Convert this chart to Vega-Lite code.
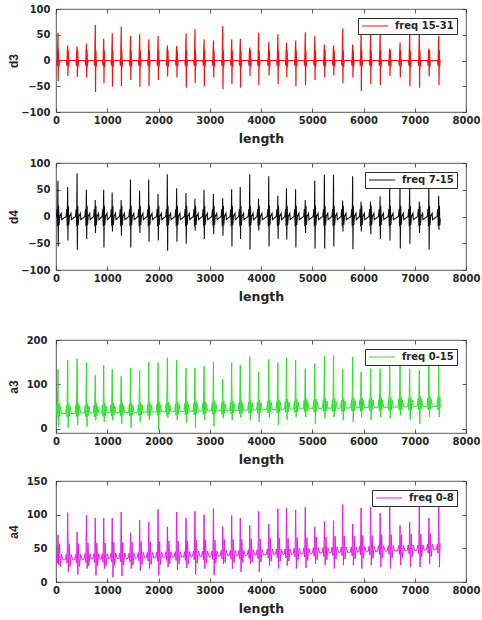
{
  "$schema": "https://vega.github.io/schema/vega-lite/v6.json",
  "background": "white",
  "padding": {"left": 6, "top": 3, "right": 0, "bottom": 2},
  "config": {
    "font": "DejaVu Sans",
    "view": {"stroke": "#303030", "strokeWidth": 0.8},
    "axis": {"domain": false, "grid": false, "tickSize": -4, "tickWidth": 0.8, "tickColor": "#303030", "labelFont": "DejaVu Sans", "labelFontWeight": "bold", "labelFontSize": 10, "labelColor": "#262626", "labelOverlap": false, "labelFlush": false, "format": "d", "titleFont": "DejaVu Sans", "titleFontWeight": "bold", "titleFontSize": 12.5, "titleColor": "#262626"},
    "axisX": {"labelPadding": 7, "titlePadding": 7},
    "axisY": {"labelPadding": 10, "titlePadding": 0, "titleFont": "Liberation Sans", "titleFontSize": 12},
    "legend": {"orient": "top-right", "offset": 9, "padding": 3, "strokeColor": "#303030", "fillColor": "white", "symbolType": "M-1,0H5.5", "symbolSize": 64, "symbolStrokeWidth": 1, "labelFont": "DejaVu Sans", "labelFontWeight": "bold", "labelFontSize": 10, "labelColor": "#262626", "labelOffset": 24, "cornerRadius": 0}
  },
  "datasets": {
    "d3": [
      {"x":0,"y":0},{"x":14,"y":0},{"x":24,"y":-10},{"x":31,"y":18},{"x":39,"y":54},{"x":43,"y":-40},{"x":50,"y":20},{"x":57,"y":-12},{"x":66,"y":0},
      {"x":204,"y":0},{"x":214,"y":-10},{"x":221,"y":18},{"x":229,"y":29},{"x":233,"y":-30},{"x":240,"y":20},{"x":247,"y":-12},{"x":256,"y":0},
      {"x":388,"y":0},{"x":398,"y":-10},{"x":405,"y":18},{"x":413,"y":27},{"x":417,"y":-32},{"x":424,"y":20},{"x":431,"y":-12},{"x":440,"y":0},
      {"x":570,"y":0},{"x":580,"y":-10},{"x":587,"y":18},{"x":595,"y":33},{"x":599,"y":-33},{"x":606,"y":20},{"x":613,"y":-12},{"x":622,"y":0},
      {"x":742,"y":0},{"x":752,"y":-10},{"x":759,"y":18},{"x":767,"y":69},{"x":771,"y":-61},{"x":778,"y":20},{"x":785,"y":-12},{"x":794,"y":0},
      {"x":907,"y":0},{"x":917,"y":-10},{"x":924,"y":18},{"x":932,"y":42},{"x":936,"y":-44},{"x":943,"y":20},{"x":950,"y":-12},{"x":959,"y":0},
      {"x":1073,"y":0},{"x":1083,"y":-10},{"x":1090,"y":18},{"x":1098,"y":53},{"x":1102,"y":-51},{"x":1109,"y":20},{"x":1116,"y":-12},{"x":1125,"y":0},
      {"x":1248,"y":0},{"x":1258,"y":-10},{"x":1265,"y":18},{"x":1273,"y":66},{"x":1277,"y":-50},{"x":1284,"y":20},{"x":1291,"y":-12},{"x":1300,"y":0},
      {"x":1430,"y":0},{"x":1440,"y":-10},{"x":1447,"y":18},{"x":1455,"y":48},{"x":1459,"y":-38},{"x":1466,"y":20},{"x":1473,"y":-12},{"x":1482,"y":0},
      {"x":1608,"y":0},{"x":1618,"y":-10},{"x":1625,"y":18},{"x":1633,"y":51},{"x":1637,"y":-51},{"x":1644,"y":20},{"x":1651,"y":-12},{"x":1660,"y":0},
      {"x":1786,"y":0},{"x":1796,"y":-10},{"x":1803,"y":18},{"x":1811,"y":41},{"x":1815,"y":-50},{"x":1822,"y":20},{"x":1829,"y":-12},{"x":1838,"y":0},
      {"x":1968,"y":0},{"x":1978,"y":-10},{"x":1985,"y":18},{"x":1993,"y":48},{"x":1997,"y":-38},{"x":2004,"y":20},{"x":2011,"y":-12},{"x":2020,"y":0},
      {"x":2149,"y":0},{"x":2159,"y":-10},{"x":2166,"y":18},{"x":2174,"y":29},{"x":2178,"y":-31},{"x":2185,"y":20},{"x":2192,"y":-12},{"x":2201,"y":0},
      {"x":2331,"y":0},{"x":2341,"y":-10},{"x":2348,"y":18},{"x":2356,"y":28},{"x":2360,"y":-33},{"x":2367,"y":20},{"x":2374,"y":-12},{"x":2383,"y":0},
      {"x":2513,"y":0},{"x":2523,"y":-10},{"x":2530,"y":18},{"x":2538,"y":53},{"x":2542,"y":-53},{"x":2549,"y":20},{"x":2556,"y":-12},{"x":2565,"y":0},
      {"x":2687,"y":0},{"x":2697,"y":-10},{"x":2704,"y":18},{"x":2712,"y":61},{"x":2716,"y":-44},{"x":2723,"y":20},{"x":2730,"y":-12},{"x":2739,"y":0},
      {"x":2865,"y":0},{"x":2875,"y":-10},{"x":2882,"y":18},{"x":2890,"y":41},{"x":2894,"y":-50},{"x":2901,"y":20},{"x":2908,"y":-12},{"x":2917,"y":0},
      {"x":3048,"y":0},{"x":3058,"y":-10},{"x":3065,"y":18},{"x":3073,"y":39},{"x":3077,"y":-33},{"x":3084,"y":20},{"x":3091,"y":-12},{"x":3100,"y":0},
      {"x":3229,"y":0},{"x":3239,"y":-10},{"x":3246,"y":18},{"x":3254,"y":67},{"x":3258,"y":-56},{"x":3265,"y":20},{"x":3272,"y":-12},{"x":3281,"y":0},
      {"x":3404,"y":0},{"x":3414,"y":-10},{"x":3421,"y":18},{"x":3429,"y":41},{"x":3433,"y":-46},{"x":3440,"y":20},{"x":3447,"y":-12},{"x":3456,"y":0},
      {"x":3572,"y":0},{"x":3582,"y":-10},{"x":3589,"y":18},{"x":3597,"y":42},{"x":3601,"y":-53},{"x":3608,"y":20},{"x":3615,"y":-12},{"x":3624,"y":0},
      {"x":3757,"y":0},{"x":3767,"y":-10},{"x":3774,"y":18},{"x":3782,"y":25},{"x":3786,"y":-30},{"x":3793,"y":20},{"x":3800,"y":-12},{"x":3809,"y":0},
      {"x":3929,"y":0},{"x":3939,"y":-10},{"x":3946,"y":18},{"x":3954,"y":54},{"x":3958,"y":-48},{"x":3965,"y":20},{"x":3972,"y":-12},{"x":3981,"y":0},
      {"x":4128,"y":0},{"x":4138,"y":-10},{"x":4145,"y":18},{"x":4153,"y":36},{"x":4157,"y":-29},{"x":4164,"y":20},{"x":4171,"y":-12},{"x":4180,"y":0},
      {"x":4305,"y":0},{"x":4315,"y":-10},{"x":4322,"y":18},{"x":4330,"y":51},{"x":4334,"y":-46},{"x":4341,"y":20},{"x":4348,"y":-12},{"x":4357,"y":0},
      {"x":4474,"y":0},{"x":4484,"y":-10},{"x":4491,"y":18},{"x":4499,"y":35},{"x":4503,"y":-33},{"x":4510,"y":20},{"x":4517,"y":-12},{"x":4526,"y":0},
      {"x":4652,"y":0},{"x":4662,"y":-10},{"x":4669,"y":18},{"x":4677,"y":39},{"x":4681,"y":-50},{"x":4688,"y":20},{"x":4695,"y":-12},{"x":4704,"y":0},
      {"x":4840,"y":0},{"x":4850,"y":-10},{"x":4857,"y":18},{"x":4865,"y":55},{"x":4869,"y":-48},{"x":4876,"y":20},{"x":4883,"y":-12},{"x":4892,"y":0},
      {"x":5026,"y":0},{"x":5036,"y":-10},{"x":5043,"y":18},{"x":5051,"y":48},{"x":5055,"y":-38},{"x":5062,"y":20},{"x":5069,"y":-12},{"x":5078,"y":0},
      {"x":5214,"y":0},{"x":5224,"y":-10},{"x":5231,"y":18},{"x":5239,"y":31},{"x":5243,"y":-33},{"x":5250,"y":20},{"x":5257,"y":-12},{"x":5266,"y":0},
      {"x":5392,"y":0},{"x":5402,"y":-10},{"x":5409,"y":18},{"x":5417,"y":29},{"x":5421,"y":-29},{"x":5428,"y":20},{"x":5435,"y":-12},{"x":5444,"y":0},
      {"x":5570,"y":0},{"x":5580,"y":-10},{"x":5587,"y":18},{"x":5595,"y":62},{"x":5599,"y":-44},{"x":5606,"y":20},{"x":5613,"y":-12},{"x":5622,"y":0},
      {"x":5765,"y":0},{"x":5775,"y":-10},{"x":5782,"y":18},{"x":5790,"y":31},{"x":5794,"y":-33},{"x":5801,"y":20},{"x":5808,"y":-12},{"x":5817,"y":0},
      {"x":5929,"y":0},{"x":5939,"y":-10},{"x":5946,"y":18},{"x":5954,"y":60},{"x":5958,"y":-59},{"x":5965,"y":20},{"x":5972,"y":-12},{"x":5981,"y":0},
      {"x":6114,"y":0},{"x":6124,"y":-10},{"x":6131,"y":18},{"x":6139,"y":60},{"x":6143,"y":-46},{"x":6150,"y":20},{"x":6157,"y":-12},{"x":6166,"y":0},
      {"x":6300,"y":0},{"x":6310,"y":-10},{"x":6317,"y":18},{"x":6325,"y":60},{"x":6329,"y":-48},{"x":6336,"y":20},{"x":6343,"y":-12},{"x":6352,"y":0},
      {"x":6488,"y":0},{"x":6498,"y":-10},{"x":6505,"y":18},{"x":6513,"y":23},{"x":6517,"y":-30},{"x":6524,"y":20},{"x":6531,"y":-12},{"x":6540,"y":0},
      {"x":6689,"y":0},{"x":6699,"y":-10},{"x":6706,"y":18},{"x":6714,"y":35},{"x":6718,"y":-33},{"x":6725,"y":20},{"x":6732,"y":-12},{"x":6741,"y":0},
      {"x":6877,"y":0},{"x":6887,"y":-10},{"x":6894,"y":18},{"x":6902,"y":58},{"x":6906,"y":-50},{"x":6913,"y":20},{"x":6920,"y":-12},{"x":6929,"y":0},
      {"x":7065,"y":0},{"x":7075,"y":-10},{"x":7082,"y":18},{"x":7090,"y":58},{"x":7094,"y":-53},{"x":7101,"y":20},{"x":7108,"y":-12},{"x":7117,"y":0},
      {"x":7252,"y":0},{"x":7262,"y":-10},{"x":7269,"y":18},{"x":7277,"y":23},{"x":7281,"y":-31},{"x":7288,"y":20},{"x":7295,"y":-12},{"x":7304,"y":0},
      {"x":7444,"y":0},{"x":7454,"y":-10},{"x":7461,"y":18},{"x":7469,"y":48},{"x":7473,"y":-48},{"x":7480,"y":20},{"x":7487,"y":-12},{"x":7496,"y":0}
    ],
    "d4": [
      {"x":0,"y":0},{"x":6,"y":0},{"x":20,"y":14},{"x":29,"y":-18},{"x":37,"y":67},{"x":43,"y":-56},{"x":51,"y":20},{"x":60,"y":-16},{"x":72,"y":0},{"x":102,"y":6},{"x":110,"y":-6},
      {"x":196,"y":0},{"x":210,"y":14},{"x":219,"y":-18},{"x":227,"y":55},{"x":233,"y":-45},{"x":241,"y":20},{"x":250,"y":-16},{"x":262,"y":0},{"x":292,"y":6},{"x":300,"y":-6},
      {"x":380,"y":0},{"x":394,"y":14},{"x":403,"y":-18},{"x":411,"y":81},{"x":417,"y":-62},{"x":425,"y":20},{"x":434,"y":-16},{"x":446,"y":0},{"x":476,"y":6},{"x":484,"y":-6},
      {"x":562,"y":0},{"x":576,"y":14},{"x":585,"y":-18},{"x":593,"y":50},{"x":599,"y":-42},{"x":607,"y":20},{"x":616,"y":-16},{"x":628,"y":0},{"x":658,"y":6},{"x":666,"y":-6},
      {"x":734,"y":0},{"x":748,"y":14},{"x":757,"y":-18},{"x":765,"y":31},{"x":771,"y":-31},{"x":779,"y":20},{"x":788,"y":-16},{"x":800,"y":0},{"x":830,"y":6},{"x":838,"y":-6},
      {"x":899,"y":0},{"x":913,"y":14},{"x":922,"y":-18},{"x":930,"y":50},{"x":936,"y":-58},{"x":944,"y":20},{"x":953,"y":-16},{"x":965,"y":0},{"x":995,"y":6},{"x":1003,"y":-6},
      {"x":1065,"y":0},{"x":1079,"y":14},{"x":1088,"y":-18},{"x":1096,"y":45},{"x":1102,"y":-28},{"x":1110,"y":20},{"x":1119,"y":-16},{"x":1131,"y":0},{"x":1161,"y":6},{"x":1169,"y":-6},
      {"x":1240,"y":0},{"x":1254,"y":14},{"x":1263,"y":-18},{"x":1271,"y":31},{"x":1277,"y":-36},{"x":1285,"y":20},{"x":1294,"y":-16},{"x":1306,"y":0},{"x":1336,"y":6},{"x":1344,"y":-6},
      {"x":1422,"y":0},{"x":1436,"y":14},{"x":1445,"y":-18},{"x":1453,"y":69},{"x":1459,"y":-58},{"x":1467,"y":20},{"x":1476,"y":-16},{"x":1488,"y":0},{"x":1518,"y":6},{"x":1526,"y":-6},
      {"x":1600,"y":0},{"x":1614,"y":14},{"x":1623,"y":-18},{"x":1631,"y":48},{"x":1637,"y":-31},{"x":1645,"y":20},{"x":1654,"y":-16},{"x":1666,"y":0},{"x":1696,"y":6},{"x":1704,"y":-6},
      {"x":1778,"y":0},{"x":1792,"y":14},{"x":1801,"y":-18},{"x":1809,"y":69},{"x":1815,"y":-47},{"x":1823,"y":20},{"x":1832,"y":-16},{"x":1844,"y":0},{"x":1874,"y":6},{"x":1882,"y":-6},
      {"x":1960,"y":0},{"x":1974,"y":14},{"x":1983,"y":-18},{"x":1991,"y":42},{"x":1997,"y":-45},{"x":2005,"y":20},{"x":2014,"y":-16},{"x":2026,"y":0},{"x":2056,"y":6},{"x":2064,"y":-6},
      {"x":2141,"y":0},{"x":2155,"y":14},{"x":2164,"y":-18},{"x":2172,"y":79},{"x":2178,"y":-64},{"x":2186,"y":20},{"x":2195,"y":-16},{"x":2207,"y":0},{"x":2237,"y":6},{"x":2245,"y":-6},
      {"x":2323,"y":0},{"x":2337,"y":14},{"x":2346,"y":-18},{"x":2354,"y":53},{"x":2360,"y":-47},{"x":2368,"y":20},{"x":2377,"y":-16},{"x":2389,"y":0},{"x":2419,"y":6},{"x":2427,"y":-6},
      {"x":2505,"y":0},{"x":2519,"y":14},{"x":2528,"y":-18},{"x":2536,"y":44},{"x":2542,"y":-51},{"x":2550,"y":20},{"x":2559,"y":-16},{"x":2571,"y":0},{"x":2601,"y":6},{"x":2609,"y":-6},
      {"x":2679,"y":0},{"x":2693,"y":14},{"x":2702,"y":-18},{"x":2710,"y":33},{"x":2716,"y":-26},{"x":2724,"y":20},{"x":2733,"y":-16},{"x":2745,"y":0},{"x":2775,"y":6},{"x":2783,"y":-6},
      {"x":2857,"y":0},{"x":2871,"y":14},{"x":2880,"y":-18},{"x":2888,"y":50},{"x":2894,"y":-42},{"x":2902,"y":20},{"x":2911,"y":-16},{"x":2923,"y":0},{"x":2953,"y":6},{"x":2961,"y":-6},
      {"x":3040,"y":0},{"x":3054,"y":14},{"x":3063,"y":-18},{"x":3071,"y":42},{"x":3077,"y":-33},{"x":3085,"y":20},{"x":3094,"y":-16},{"x":3106,"y":0},{"x":3136,"y":6},{"x":3144,"y":-6},
      {"x":3221,"y":0},{"x":3235,"y":14},{"x":3244,"y":-18},{"x":3252,"y":34},{"x":3258,"y":-36},{"x":3266,"y":20},{"x":3275,"y":-16},{"x":3287,"y":0},{"x":3317,"y":6},{"x":3325,"y":-6},
      {"x":3396,"y":0},{"x":3410,"y":14},{"x":3419,"y":-18},{"x":3427,"y":51},{"x":3433,"y":-56},{"x":3441,"y":20},{"x":3450,"y":-16},{"x":3462,"y":0},{"x":3492,"y":6},{"x":3500,"y":-6},
      {"x":3564,"y":0},{"x":3578,"y":14},{"x":3587,"y":-18},{"x":3595,"y":55},{"x":3601,"y":-42},{"x":3609,"y":20},{"x":3618,"y":-16},{"x":3630,"y":0},{"x":3660,"y":6},{"x":3668,"y":-6},
      {"x":3749,"y":0},{"x":3763,"y":14},{"x":3772,"y":-18},{"x":3780,"y":79},{"x":3786,"y":-62},{"x":3794,"y":20},{"x":3803,"y":-16},{"x":3815,"y":0},{"x":3845,"y":6},{"x":3853,"y":-6},
      {"x":3921,"y":0},{"x":3935,"y":14},{"x":3944,"y":-18},{"x":3952,"y":33},{"x":3958,"y":-26},{"x":3966,"y":20},{"x":3975,"y":-16},{"x":3987,"y":0},{"x":4017,"y":6},{"x":4025,"y":-6},
      {"x":4120,"y":0},{"x":4134,"y":14},{"x":4143,"y":-18},{"x":4151,"y":75},{"x":4157,"y":-56},{"x":4165,"y":20},{"x":4174,"y":-16},{"x":4186,"y":0},{"x":4216,"y":6},{"x":4224,"y":-6},
      {"x":4297,"y":0},{"x":4311,"y":14},{"x":4320,"y":-18},{"x":4328,"y":39},{"x":4334,"y":-42},{"x":4342,"y":20},{"x":4351,"y":-16},{"x":4363,"y":0},{"x":4393,"y":6},{"x":4401,"y":-6},
      {"x":4466,"y":0},{"x":4480,"y":14},{"x":4489,"y":-18},{"x":4497,"y":53},{"x":4503,"y":-43},{"x":4511,"y":20},{"x":4520,"y":-16},{"x":4532,"y":0},{"x":4562,"y":6},{"x":4570,"y":-6},
      {"x":4644,"y":0},{"x":4658,"y":14},{"x":4667,"y":-18},{"x":4675,"y":51},{"x":4681,"y":-58},{"x":4689,"y":20},{"x":4698,"y":-16},{"x":4710,"y":0},{"x":4740,"y":6},{"x":4748,"y":-6},
      {"x":4832,"y":0},{"x":4846,"y":14},{"x":4855,"y":-18},{"x":4863,"y":31},{"x":4869,"y":-31},{"x":4877,"y":20},{"x":4886,"y":-16},{"x":4898,"y":0},{"x":4928,"y":6},{"x":4936,"y":-6},
      {"x":5018,"y":0},{"x":5032,"y":14},{"x":5041,"y":-18},{"x":5049,"y":67},{"x":5055,"y":-60},{"x":5063,"y":20},{"x":5072,"y":-16},{"x":5084,"y":0},{"x":5114,"y":6},{"x":5122,"y":-6},
      {"x":5206,"y":0},{"x":5220,"y":14},{"x":5229,"y":-18},{"x":5237,"y":78},{"x":5243,"y":-60},{"x":5251,"y":20},{"x":5260,"y":-16},{"x":5272,"y":0},{"x":5302,"y":6},{"x":5310,"y":-6},
      {"x":5384,"y":0},{"x":5398,"y":14},{"x":5407,"y":-18},{"x":5415,"y":78},{"x":5421,"y":-56},{"x":5429,"y":20},{"x":5438,"y":-16},{"x":5450,"y":0},{"x":5480,"y":6},{"x":5488,"y":-6},
      {"x":5562,"y":0},{"x":5576,"y":14},{"x":5585,"y":-18},{"x":5593,"y":30},{"x":5599,"y":-28},{"x":5607,"y":20},{"x":5616,"y":-16},{"x":5628,"y":0},{"x":5658,"y":6},{"x":5666,"y":-6},
      {"x":5757,"y":0},{"x":5771,"y":14},{"x":5780,"y":-18},{"x":5788,"y":75},{"x":5794,"y":-61},{"x":5802,"y":20},{"x":5811,"y":-16},{"x":5823,"y":0},{"x":5853,"y":6},{"x":5861,"y":-6},
      {"x":5921,"y":0},{"x":5935,"y":14},{"x":5944,"y":-18},{"x":5952,"y":28},{"x":5958,"y":-28},{"x":5966,"y":20},{"x":5975,"y":-16},{"x":5987,"y":0},{"x":6017,"y":6},{"x":6025,"y":-6},
      {"x":6106,"y":0},{"x":6120,"y":14},{"x":6129,"y":-18},{"x":6137,"y":28},{"x":6143,"y":-33},{"x":6151,"y":20},{"x":6160,"y":-16},{"x":6172,"y":0},{"x":6202,"y":6},{"x":6210,"y":-6},
      {"x":6292,"y":0},{"x":6306,"y":14},{"x":6315,"y":-18},{"x":6323,"y":38},{"x":6329,"y":-42},{"x":6337,"y":20},{"x":6346,"y":-16},{"x":6358,"y":0},{"x":6388,"y":6},{"x":6396,"y":-6},
      {"x":6480,"y":0},{"x":6494,"y":14},{"x":6503,"y":-18},{"x":6511,"y":53},{"x":6517,"y":-45},{"x":6525,"y":20},{"x":6534,"y":-16},{"x":6546,"y":0},{"x":6576,"y":6},{"x":6584,"y":-6},
      {"x":6681,"y":0},{"x":6695,"y":14},{"x":6704,"y":-18},{"x":6712,"y":62},{"x":6718,"y":-60},{"x":6726,"y":20},{"x":6735,"y":-16},{"x":6747,"y":0},{"x":6777,"y":6},{"x":6785,"y":-6},
      {"x":6869,"y":0},{"x":6883,"y":14},{"x":6892,"y":-18},{"x":6900,"y":62},{"x":6906,"y":-51},{"x":6914,"y":20},{"x":6923,"y":-16},{"x":6935,"y":0},{"x":6965,"y":6},{"x":6973,"y":-6},
      {"x":7057,"y":0},{"x":7071,"y":14},{"x":7080,"y":-18},{"x":7088,"y":28},{"x":7094,"y":-31},{"x":7102,"y":20},{"x":7111,"y":-16},{"x":7123,"y":0},{"x":7153,"y":6},{"x":7161,"y":-6},
      {"x":7244,"y":0},{"x":7258,"y":14},{"x":7267,"y":-18},{"x":7275,"y":62},{"x":7281,"y":-62},{"x":7289,"y":20},{"x":7298,"y":-16},{"x":7310,"y":0},{"x":7340,"y":6},{"x":7348,"y":-6},
      {"x":7436,"y":0},{"x":7450,"y":14},{"x":7459,"y":-18},{"x":7467,"y":39},{"x":7473,"y":-25},{"x":7481,"y":20},{"x":7490,"y":-16},{"x":7498,"y":-4}
    ],
    "a3": [
      {"x":0,"y":34},{"x":14,"y":52},{"x":24,"y":26},{"x":38,"y":134},{"x":48,"y":4},{"x":60,"y":56},{"x":72,"y":28},{"x":86,"y":50},{"x":106,"y":34},
      {"x":190,"y":34},{"x":204,"y":52},{"x":214,"y":26},{"x":228,"y":155},{"x":238,"y":2},{"x":250,"y":56},{"x":262,"y":28},{"x":276,"y":50},{"x":296,"y":34},
      {"x":374,"y":35},{"x":388,"y":53},{"x":398,"y":27},{"x":412,"y":158},{"x":422,"y":8},{"x":434,"y":57},{"x":446,"y":29},{"x":460,"y":51},{"x":480,"y":35},
      {"x":556,"y":35},{"x":570,"y":53},{"x":580,"y":27},{"x":594,"y":149},{"x":604,"y":4},{"x":616,"y":57},{"x":628,"y":29},{"x":642,"y":51},{"x":662,"y":35},
      {"x":728,"y":35},{"x":742,"y":53},{"x":752,"y":27},{"x":766,"y":120},{"x":776,"y":19},{"x":788,"y":57},{"x":800,"y":29},{"x":814,"y":51},{"x":834,"y":35},
      {"x":893,"y":35},{"x":907,"y":53},{"x":917,"y":27},{"x":931,"y":143},{"x":941,"y":15},{"x":953,"y":57},{"x":965,"y":29},{"x":979,"y":51},{"x":999,"y":35},
      {"x":1059,"y":36},{"x":1073,"y":54},{"x":1083,"y":28},{"x":1097,"y":134},{"x":1107,"y":19},{"x":1119,"y":58},{"x":1131,"y":30},{"x":1145,"y":52},{"x":1165,"y":36},
      {"x":1234,"y":36},{"x":1248,"y":54},{"x":1258,"y":28},{"x":1272,"y":118},{"x":1282,"y":11},{"x":1294,"y":58},{"x":1306,"y":30},{"x":1320,"y":52},{"x":1340,"y":36},
      {"x":1416,"y":36},{"x":1430,"y":54},{"x":1440,"y":28},{"x":1454,"y":137},{"x":1464,"y":2},{"x":1476,"y":58},{"x":1488,"y":30},{"x":1502,"y":52},{"x":1522,"y":36},
      {"x":1594,"y":37},{"x":1608,"y":55},{"x":1618,"y":29},{"x":1632,"y":132},{"x":1642,"y":15},{"x":1654,"y":59},{"x":1666,"y":31},{"x":1680,"y":53},{"x":1700,"y":37},
      {"x":1772,"y":37},{"x":1786,"y":55},{"x":1796,"y":29},{"x":1810,"y":150},{"x":1820,"y":19},{"x":1832,"y":59},{"x":1844,"y":31},{"x":1858,"y":53},{"x":1878,"y":37},
      {"x":1954,"y":38},{"x":1968,"y":56},{"x":1978,"y":30},{"x":1992,"y":149},{"x":2002,"y":-3},{"x":2014,"y":60},{"x":2026,"y":32},{"x":2040,"y":54},{"x":2060,"y":38},
      {"x":2135,"y":38},{"x":2149,"y":56},{"x":2159,"y":30},{"x":2173,"y":160},{"x":2183,"y":25},{"x":2195,"y":60},{"x":2207,"y":32},{"x":2221,"y":54},{"x":2241,"y":38},
      {"x":2317,"y":38},{"x":2331,"y":56},{"x":2341,"y":30},{"x":2355,"y":155},{"x":2365,"y":19},{"x":2377,"y":60},{"x":2389,"y":32},{"x":2403,"y":54},{"x":2423,"y":38},
      {"x":2499,"y":39},{"x":2513,"y":57},{"x":2523,"y":31},{"x":2537,"y":137},{"x":2547,"y":13},{"x":2559,"y":61},{"x":2571,"y":33},{"x":2585,"y":55},{"x":2605,"y":39},
      {"x":2673,"y":39},{"x":2687,"y":57},{"x":2697,"y":31},{"x":2711,"y":137},{"x":2721,"y":2},{"x":2733,"y":61},{"x":2745,"y":33},{"x":2759,"y":55},{"x":2779,"y":39},
      {"x":2851,"y":40},{"x":2865,"y":58},{"x":2875,"y":32},{"x":2889,"y":141},{"x":2899,"y":19},{"x":2911,"y":62},{"x":2923,"y":34},{"x":2937,"y":56},{"x":2957,"y":40},
      {"x":3034,"y":40},{"x":3048,"y":58},{"x":3058,"y":32},{"x":3072,"y":150},{"x":3082,"y":5},{"x":3094,"y":62},{"x":3106,"y":34},{"x":3120,"y":56},{"x":3140,"y":40},
      {"x":3215,"y":40},{"x":3229,"y":58},{"x":3239,"y":32},{"x":3253,"y":112},{"x":3263,"y":23},{"x":3275,"y":62},{"x":3287,"y":34},{"x":3301,"y":56},{"x":3321,"y":40},
      {"x":3390,"y":41},{"x":3404,"y":59},{"x":3414,"y":33},{"x":3428,"y":149},{"x":3438,"y":19},{"x":3450,"y":63},{"x":3462,"y":35},{"x":3476,"y":57},{"x":3496,"y":41},
      {"x":3558,"y":41},{"x":3572,"y":59},{"x":3582,"y":33},{"x":3596,"y":143},{"x":3606,"y":25},{"x":3618,"y":63},{"x":3630,"y":35},{"x":3644,"y":57},{"x":3664,"y":41},
      {"x":3743,"y":42},{"x":3757,"y":60},{"x":3767,"y":34},{"x":3781,"y":162},{"x":3791,"y":19},{"x":3803,"y":64},{"x":3815,"y":36},{"x":3829,"y":58},{"x":3849,"y":42},
      {"x":3915,"y":42},{"x":3929,"y":60},{"x":3939,"y":34},{"x":3953,"y":128},{"x":3963,"y":15},{"x":3975,"y":64},{"x":3987,"y":36},{"x":4001,"y":58},{"x":4021,"y":42},
      {"x":4114,"y":43},{"x":4128,"y":61},{"x":4138,"y":35},{"x":4152,"y":156},{"x":4162,"y":25},{"x":4174,"y":65},{"x":4186,"y":37},{"x":4200,"y":59},{"x":4220,"y":43},
      {"x":4291,"y":43},{"x":4305,"y":61},{"x":4315,"y":35},{"x":4329,"y":149},{"x":4339,"y":8},{"x":4351,"y":65},{"x":4363,"y":37},{"x":4377,"y":59},{"x":4397,"y":43},
      {"x":4460,"y":44},{"x":4474,"y":62},{"x":4484,"y":36},{"x":4498,"y":160},{"x":4508,"y":20},{"x":4520,"y":66},{"x":4532,"y":38},{"x":4546,"y":60},{"x":4566,"y":44},
      {"x":4638,"y":44},{"x":4652,"y":62},{"x":4662,"y":36},{"x":4676,"y":155},{"x":4686,"y":26},{"x":4698,"y":66},{"x":4710,"y":38},{"x":4724,"y":60},{"x":4744,"y":44},
      {"x":4826,"y":45},{"x":4840,"y":63},{"x":4850,"y":37},{"x":4864,"y":135},{"x":4874,"y":26},{"x":4886,"y":67},{"x":4898,"y":39},{"x":4912,"y":61},{"x":4932,"y":45},
      {"x":5012,"y":45},{"x":5026,"y":63},{"x":5036,"y":37},{"x":5050,"y":147},{"x":5060,"y":11},{"x":5072,"y":67},{"x":5084,"y":39},{"x":5098,"y":61},{"x":5118,"y":45},
      {"x":5200,"y":46},{"x":5214,"y":64},{"x":5224,"y":38},{"x":5238,"y":164},{"x":5248,"y":23},{"x":5260,"y":68},{"x":5272,"y":40},{"x":5286,"y":62},{"x":5306,"y":46},
      {"x":5378,"y":46},{"x":5392,"y":64},{"x":5402,"y":38},{"x":5416,"y":165},{"x":5426,"y":26},{"x":5438,"y":68},{"x":5450,"y":40},{"x":5464,"y":62},{"x":5484,"y":46},
      {"x":5556,"y":46},{"x":5570,"y":64},{"x":5580,"y":38},{"x":5594,"y":134},{"x":5604,"y":19},{"x":5616,"y":68},{"x":5628,"y":40},{"x":5642,"y":62},{"x":5662,"y":46},
      {"x":5751,"y":47},{"x":5765,"y":65},{"x":5775,"y":39},{"x":5789,"y":162},{"x":5799,"y":15},{"x":5811,"y":69},{"x":5823,"y":41},{"x":5837,"y":63},{"x":5857,"y":47},
      {"x":5915,"y":47},{"x":5929,"y":65},{"x":5939,"y":39},{"x":5953,"y":128},{"x":5963,"y":26},{"x":5975,"y":69},{"x":5987,"y":41},{"x":6001,"y":63},{"x":6021,"y":47},
      {"x":6100,"y":48},{"x":6114,"y":66},{"x":6124,"y":40},{"x":6138,"y":135},{"x":6148,"y":19},{"x":6160,"y":70},{"x":6172,"y":42},{"x":6186,"y":64},{"x":6206,"y":48},
      {"x":6286,"y":48},{"x":6300,"y":66},{"x":6310,"y":40},{"x":6324,"y":135},{"x":6334,"y":26},{"x":6346,"y":70},{"x":6358,"y":42},{"x":6372,"y":64},{"x":6392,"y":48},
      {"x":6474,"y":48},{"x":6488,"y":66},{"x":6498,"y":40},{"x":6512,"y":152},{"x":6522,"y":23},{"x":6534,"y":70},{"x":6546,"y":42},{"x":6560,"y":64},{"x":6580,"y":48},
      {"x":6675,"y":49},{"x":6689,"y":67},{"x":6699,"y":41},{"x":6713,"y":152},{"x":6723,"y":30},{"x":6735,"y":71},{"x":6747,"y":43},{"x":6761,"y":65},{"x":6781,"y":49},
      {"x":6863,"y":49},{"x":6877,"y":67},{"x":6887,"y":41},{"x":6901,"y":135},{"x":6911,"y":20},{"x":6923,"y":71},{"x":6935,"y":43},{"x":6949,"y":65},{"x":6969,"y":49},
      {"x":7051,"y":50},{"x":7065,"y":68},{"x":7075,"y":42},{"x":7089,"y":132},{"x":7099,"y":11},{"x":7111,"y":72},{"x":7123,"y":44},{"x":7137,"y":66},{"x":7157,"y":50},
      {"x":7238,"y":50},{"x":7252,"y":68},{"x":7262,"y":42},{"x":7276,"y":152},{"x":7286,"y":26},{"x":7298,"y":72},{"x":7310,"y":44},{"x":7324,"y":66},{"x":7344,"y":50},
      {"x":7430,"y":50},{"x":7444,"y":68},{"x":7454,"y":42},{"x":7468,"y":143},{"x":7478,"y":26},{"x":7490,"y":72},{"x":7498,"y":48}
    ],
    "a4": [
      {"x":0,"y":33},{"x":12,"y":40},{"x":26,"y":28},{"x":38,"y":70},{"x":52,"y":25},{"x":68,"y":57},{"x":84,"y":23},{"x":106,"y":41},{"x":136,"y":33},
      {"x":180,"y":33},{"x":200,"y":41},{"x":216,"y":28},{"x":228,"y":103},{"x":242,"y":15},{"x":258,"y":57},{"x":274,"y":23},{"x":296,"y":41},{"x":326,"y":33},
      {"x":364,"y":33},{"x":384,"y":41},{"x":400,"y":28},{"x":412,"y":74},{"x":426,"y":11},{"x":442,"y":57},{"x":458,"y":23},{"x":480,"y":41},{"x":510,"y":33},
      {"x":546,"y":34},{"x":566,"y":42},{"x":582,"y":29},{"x":594,"y":99},{"x":608,"y":20},{"x":624,"y":58},{"x":640,"y":24},{"x":662,"y":42},{"x":692,"y":34},
      {"x":718,"y":34},{"x":738,"y":42},{"x":754,"y":29},{"x":766,"y":95},{"x":780,"y":10},{"x":796,"y":58},{"x":812,"y":24},{"x":834,"y":42},{"x":864,"y":34},
      {"x":883,"y":34},{"x":903,"y":42},{"x":919,"y":29},{"x":931,"y":95},{"x":945,"y":20},{"x":961,"y":58},{"x":977,"y":24},{"x":999,"y":42},{"x":1029,"y":34},
      {"x":1049,"y":35},{"x":1069,"y":43},{"x":1085,"y":30},{"x":1097,"y":95},{"x":1111,"y":7},{"x":1127,"y":59},{"x":1143,"y":25},{"x":1165,"y":43},{"x":1195,"y":35},
      {"x":1224,"y":35},{"x":1244,"y":43},{"x":1260,"y":30},{"x":1272,"y":104},{"x":1286,"y":9},{"x":1302,"y":59},{"x":1318,"y":25},{"x":1340,"y":43},{"x":1370,"y":35},
      {"x":1406,"y":35},{"x":1426,"y":43},{"x":1442,"y":30},{"x":1454,"y":73},{"x":1468,"y":20},{"x":1484,"y":59},{"x":1500,"y":25},{"x":1522,"y":43},{"x":1552,"y":35},
      {"x":1584,"y":36},{"x":1604,"y":44},{"x":1620,"y":31},{"x":1632,"y":92},{"x":1646,"y":17},{"x":1662,"y":60},{"x":1678,"y":26},{"x":1700,"y":44},{"x":1730,"y":36},
      {"x":1762,"y":36},{"x":1782,"y":44},{"x":1798,"y":31},{"x":1810,"y":89},{"x":1824,"y":20},{"x":1840,"y":60},{"x":1856,"y":26},{"x":1878,"y":44},{"x":1908,"y":36},
      {"x":1944,"y":36},{"x":1964,"y":44},{"x":1980,"y":31},{"x":1992,"y":108},{"x":2006,"y":10},{"x":2022,"y":60},{"x":2038,"y":26},{"x":2060,"y":44},{"x":2090,"y":36},
      {"x":2125,"y":37},{"x":2145,"y":45},{"x":2161,"y":32},{"x":2173,"y":82},{"x":2187,"y":22},{"x":2203,"y":61},{"x":2219,"y":27},{"x":2241,"y":45},{"x":2271,"y":37},
      {"x":2307,"y":37},{"x":2327,"y":45},{"x":2343,"y":32},{"x":2355,"y":104},{"x":2369,"y":18},{"x":2385,"y":61},{"x":2401,"y":27},{"x":2423,"y":45},{"x":2453,"y":37},
      {"x":2489,"y":37},{"x":2509,"y":45},{"x":2525,"y":32},{"x":2537,"y":95},{"x":2551,"y":21},{"x":2567,"y":61},{"x":2583,"y":27},{"x":2605,"y":45},{"x":2635,"y":37},
      {"x":2663,"y":38},{"x":2683,"y":46},{"x":2699,"y":33},{"x":2711,"y":105},{"x":2725,"y":11},{"x":2741,"y":62},{"x":2757,"y":28},{"x":2779,"y":46},{"x":2809,"y":38},
      {"x":2841,"y":38},{"x":2861,"y":46},{"x":2877,"y":33},{"x":2889,"y":100},{"x":2903,"y":20},{"x":2919,"y":62},{"x":2935,"y":28},{"x":2957,"y":46},{"x":2987,"y":38},
      {"x":3024,"y":38},{"x":3044,"y":46},{"x":3060,"y":33},{"x":3072,"y":109},{"x":3086,"y":10},{"x":3102,"y":62},{"x":3118,"y":28},{"x":3140,"y":46},{"x":3170,"y":38},
      {"x":3205,"y":39},{"x":3225,"y":47},{"x":3241,"y":34},{"x":3253,"y":82},{"x":3267,"y":27},{"x":3283,"y":63},{"x":3299,"y":29},{"x":3321,"y":47},{"x":3351,"y":39},
      {"x":3380,"y":39},{"x":3400,"y":47},{"x":3416,"y":34},{"x":3428,"y":99},{"x":3442,"y":20},{"x":3458,"y":63},{"x":3474,"y":29},{"x":3496,"y":47},{"x":3526,"y":39},
      {"x":3548,"y":39},{"x":3568,"y":47},{"x":3584,"y":34},{"x":3596,"y":95},{"x":3610,"y":15},{"x":3626,"y":63},{"x":3642,"y":29},{"x":3664,"y":47},{"x":3694,"y":39},
      {"x":3733,"y":40},{"x":3753,"y":48},{"x":3769,"y":35},{"x":3781,"y":84},{"x":3795,"y":27},{"x":3811,"y":64},{"x":3827,"y":30},{"x":3849,"y":48},{"x":3879,"y":40},
      {"x":3905,"y":40},{"x":3925,"y":48},{"x":3941,"y":35},{"x":3953,"y":105},{"x":3967,"y":15},{"x":3983,"y":64},{"x":3999,"y":30},{"x":4021,"y":48},{"x":4051,"y":40},
      {"x":4104,"y":41},{"x":4124,"y":49},{"x":4140,"y":36},{"x":4152,"y":86},{"x":4166,"y":24},{"x":4182,"y":65},{"x":4198,"y":31},{"x":4220,"y":49},{"x":4250,"y":41},
      {"x":4281,"y":41},{"x":4301,"y":49},{"x":4317,"y":36},{"x":4329,"y":109},{"x":4343,"y":20},{"x":4359,"y":65},{"x":4375,"y":31},{"x":4397,"y":49},{"x":4427,"y":41},
      {"x":4450,"y":41},{"x":4470,"y":49},{"x":4486,"y":36},{"x":4498,"y":110},{"x":4512,"y":24},{"x":4528,"y":65},{"x":4544,"y":31},{"x":4566,"y":49},{"x":4596,"y":41},
      {"x":4628,"y":42},{"x":4648,"y":50},{"x":4664,"y":37},{"x":4676,"y":107},{"x":4690,"y":20},{"x":4706,"y":66},{"x":4722,"y":32},{"x":4744,"y":50},{"x":4774,"y":42},
      {"x":4816,"y":42},{"x":4836,"y":50},{"x":4852,"y":37},{"x":4864,"y":111},{"x":4878,"y":21},{"x":4894,"y":66},{"x":4910,"y":32},{"x":4932,"y":50},{"x":4962,"y":42},
      {"x":5002,"y":43},{"x":5022,"y":51},{"x":5038,"y":38},{"x":5050,"y":82},{"x":5064,"y":27},{"x":5080,"y":67},{"x":5096,"y":33},{"x":5118,"y":51},{"x":5148,"y":43},
      {"x":5190,"y":43},{"x":5210,"y":51},{"x":5226,"y":38},{"x":5238,"y":90},{"x":5252,"y":25},{"x":5268,"y":67},{"x":5284,"y":33},{"x":5306,"y":51},{"x":5336,"y":43},
      {"x":5368,"y":44},{"x":5388,"y":52},{"x":5404,"y":39},{"x":5416,"y":91},{"x":5430,"y":20},{"x":5446,"y":68},{"x":5462,"y":34},{"x":5484,"y":52},{"x":5514,"y":44},
      {"x":5546,"y":44},{"x":5566,"y":52},{"x":5582,"y":39},{"x":5594,"y":115},{"x":5608,"y":25},{"x":5624,"y":68},{"x":5640,"y":34},{"x":5662,"y":52},{"x":5692,"y":44},
      {"x":5741,"y":44},{"x":5761,"y":52},{"x":5777,"y":39},{"x":5789,"y":86},{"x":5803,"y":25},{"x":5819,"y":68},{"x":5835,"y":34},{"x":5857,"y":52},{"x":5887,"y":44},
      {"x":5905,"y":45},{"x":5925,"y":53},{"x":5941,"y":40},{"x":5953,"y":110},{"x":5967,"y":20},{"x":5983,"y":69},{"x":5999,"y":35},{"x":6021,"y":53},{"x":6051,"y":45},
      {"x":6090,"y":45},{"x":6110,"y":53},{"x":6126,"y":40},{"x":6138,"y":111},{"x":6152,"y":25},{"x":6168,"y":69},{"x":6184,"y":35},{"x":6206,"y":53},{"x":6236,"y":45},
      {"x":6276,"y":46},{"x":6296,"y":54},{"x":6312,"y":41},{"x":6324,"y":102},{"x":6338,"y":22},{"x":6354,"y":70},{"x":6370,"y":36},{"x":6392,"y":54},{"x":6422,"y":46},
      {"x":6464,"y":46},{"x":6484,"y":54},{"x":6500,"y":41},{"x":6512,"y":116},{"x":6526,"y":20},{"x":6542,"y":70},{"x":6558,"y":36},{"x":6580,"y":54},{"x":6610,"y":46},
      {"x":6665,"y":46},{"x":6685,"y":54},{"x":6701,"y":41},{"x":6713,"y":84},{"x":6727,"y":25},{"x":6743,"y":70},{"x":6759,"y":36},{"x":6781,"y":54},{"x":6811,"y":46},
      {"x":6853,"y":47},{"x":6873,"y":55},{"x":6889,"y":42},{"x":6901,"y":89},{"x":6915,"y":22},{"x":6931,"y":71},{"x":6947,"y":37},{"x":6969,"y":55},{"x":6999,"y":47},
      {"x":7041,"y":47},{"x":7061,"y":55},{"x":7077,"y":42},{"x":7089,"y":112},{"x":7103,"y":22},{"x":7119,"y":71},{"x":7135,"y":37},{"x":7157,"y":55},{"x":7187,"y":47},
      {"x":7228,"y":48},{"x":7248,"y":56},{"x":7264,"y":43},{"x":7276,"y":95},{"x":7290,"y":27},{"x":7306,"y":72},{"x":7322,"y":38},{"x":7344,"y":56},{"x":7374,"y":48},
      {"x":7420,"y":48},{"x":7440,"y":56},{"x":7456,"y":43},{"x":7468,"y":112},{"x":7482,"y":22},{"x":7494,"y":58}
    ]
  },
  "resolve": {"scale": {"color": "independent"}},
  "columns": 1,
  "align": "none",
  "spacing": 31,
  "concat": [
    {
      "resolve": {"scale": {"color": "independent"}},
      "spacing": 12,
      "vconcat": [
        {
          "width": 410, "height": 103,
          "data": {"name": "d3"},
          "resolve": {"axis": {"x": "independent", "y": "independent"}},
          "layer": [
            {
              "mark": {"type": "line", "strokeWidth": 1.2, "clip": true},
              "encoding": {
                "x": {"field": "x", "type": "quantitative", "scale": {"domain": [0, 8000], "nice": false}, "axis": {"orient": "bottom", "title": "length", "values": [0, 1000, 2000, 3000, 4000, 5000, 6000, 7000, 8000]}},
                "y": {"field": "y", "type": "quantitative", "scale": {"domain": [-100, 100], "nice": false}, "axis": {"orient": "left", "title": "d3", "values": [-100, -50, 0, 50, 100]}},
                "color": {"datum": "freq 15-31", "type": "nominal", "scale": {"range": ["#f01414"]}, "legend": {"title": null}}
              }
            },
            {
              "mark": {"type": "point", "opacity": 0, "size": 0},
              "encoding": {
                "x": {"datum": 0, "type": "quantitative", "axis": {"orient": "top", "labels": false, "title": null, "values": [0, 1000, 2000, 3000, 4000, 5000, 6000, 7000, 8000]}},
                "y": {"datum": 0, "type": "quantitative", "axis": {"orient": "right", "labels": false, "title": null, "values": [-100, -50, 0, 50, 100]}}
              }
            }
          ]
        },
        {
          "width": 410, "height": 107,
          "data": {"name": "d4"},
          "resolve": {"axis": {"x": "independent", "y": "independent"}},
          "layer": [
            {
              "mark": {"type": "line", "strokeWidth": 1.1, "clip": true},
              "encoding": {
                "x": {"field": "x", "type": "quantitative", "scale": {"domain": [0, 8000], "nice": false}, "axis": {"orient": "bottom", "title": "length", "values": [0, 1000, 2000, 3000, 4000, 5000, 6000, 7000, 8000]}},
                "y": {"field": "y", "type": "quantitative", "scale": {"domain": [-100, 100], "nice": false}, "axis": {"orient": "left", "title": "d4", "values": [-100, -50, 0, 50, 100]}},
                "color": {"datum": "freq 7-15", "type": "nominal", "scale": {"range": ["#111111"]}, "legend": {"title": null}}
              }
            },
            {
              "mark": {"type": "point", "opacity": 0, "size": 0},
              "encoding": {
                "x": {"datum": 0, "type": "quantitative", "axis": {"orient": "top", "labels": false, "title": null, "values": [0, 1000, 2000, 3000, 4000, 5000, 6000, 7000, 8000]}},
                "y": {"datum": 0, "type": "quantitative", "axis": {"orient": "right", "labels": false, "title": null, "values": [-100, -50, 0, 50, 100]}}
              }
            }
          ]
        }
      ]
    },
    {
      "resolve": {"scale": {"color": "independent"}},
      "spacing": 9,
      "vconcat": [
        {
          "width": 410, "height": 93,
          "data": {"name": "a3"},
          "resolve": {"axis": {"x": "independent", "y": "independent"}},
          "layer": [
            {
              "mark": {"type": "line", "strokeWidth": 1, "clip": true},
              "encoding": {
                "x": {"field": "x", "type": "quantitative", "scale": {"domain": [0, 8000], "nice": false}, "axis": {"orient": "bottom", "title": "length", "values": [0, 1000, 2000, 3000, 4000, 5000, 6000, 7000, 8000]}},
                "y": {"field": "y", "type": "quantitative", "scale": {"domain": [-10, 200], "nice": false}, "axis": {"orient": "left", "title": "a3", "values": [0, 100, 200], "labelPadding": 13, "titlePadding": 6}},
                "color": {"datum": "freq 0-15", "type": "nominal", "scale": {"range": ["#2ee02e"]}, "legend": {"title": null}}
              }
            },
            {
              "mark": {"type": "point", "opacity": 0, "size": 0},
              "encoding": {
                "x": {"datum": 0, "type": "quantitative", "axis": {"orient": "top", "labels": false, "title": null, "values": [0, 1000, 2000, 3000, 4000, 5000, 6000, 7000, 8000]}},
                "y": {"datum": 0, "type": "quantitative", "axis": {"orient": "right", "labels": false, "title": null, "values": [0, 100, 200]}}
              }
            }
          ]
        },
        {
          "width": 410, "height": 101,
          "data": {"name": "a4"},
          "resolve": {"axis": {"x": "independent", "y": "independent"}},
          "layer": [
            {
              "mark": {"type": "line", "strokeWidth": 1, "clip": true},
              "encoding": {
                "x": {"field": "x", "type": "quantitative", "scale": {"domain": [0, 8000], "nice": false}, "axis": {"orient": "bottom", "title": "length", "values": [0, 1000, 2000, 3000, 4000, 5000, 6000, 7000, 8000]}},
                "y": {"field": "y", "type": "quantitative", "scale": {"domain": [0, 150], "nice": false}, "axis": {"orient": "left", "title": "a4", "values": [0, 50, 100, 150], "labelPadding": 13, "titlePadding": 6}},
                "color": {"datum": "freq 0-8", "type": "nominal", "scale": {"range": ["#e61ee6"]}, "legend": {"title": null}}
              }
            },
            {
              "mark": {"type": "point", "opacity": 0, "size": 0},
              "encoding": {
                "x": {"datum": 0, "type": "quantitative", "axis": {"orient": "top", "labels": false, "title": null, "values": [0, 1000, 2000, 3000, 4000, 5000, 6000, 7000, 8000]}},
                "y": {"datum": 0, "type": "quantitative", "axis": {"orient": "right", "labels": false, "title": null, "values": [0, 50, 100, 150]}}
              }
            }
          ]
        }
      ]
    }
  ]
}
